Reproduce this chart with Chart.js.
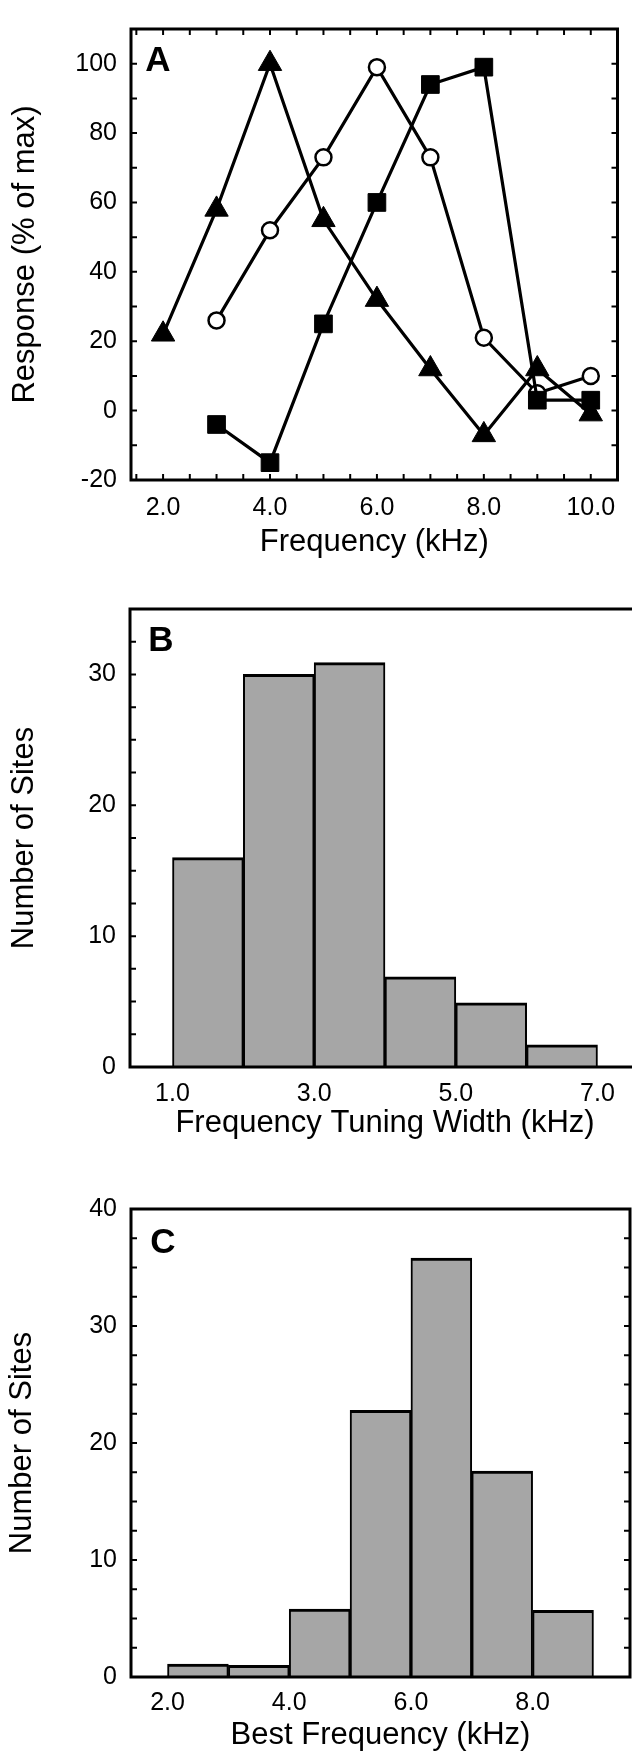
<!DOCTYPE html>
<html><head><meta charset="utf-8">
<script src="https://cdn.jsdelivr.net/npm/chart.js@4.4.1/dist/chart.umd.min.js"></script>
<style>
html,body{margin:0;padding:0;background:#fff;overflow:hidden;}
.p{position:absolute;left:0;}
</style></head><body>
<canvas id="cA" class="p" style="top:0" width="632" height="580"></canvas>
<canvas id="cB" class="p" style="top:580px" width="660" height="570"></canvas>
<canvas id="cC" class="p" style="top:1150px" width="632" height="604"></canvas>
<script>
// ---------- Panel A data ----------
const freqA = [2, 3, 4, 5, 6, 7, 8, 9, 10];
const triangleA = [22, 58, 100, 55, 32, 12, -7, 12, -1];          // x = 2..10
const freqA2 = [3, 4, 5, 6, 7, 8, 9, 10];
const circleA = [26, 52, 73, 99, 73, 21, 5, 10];                    // x = 3..10
const squareA = [-4, -15, 25, 60, 94, 99, 3, 3];                    // x = 3..10
const xTicksA = [2, 4, 6, 8, 10];
const yTicksA = [-20, 0, 20, 40, 60, 80, 100];

// ---------- Panel B data ----------
const binStartB = [1, 2, 3, 4, 5, 6];
const countsB = [16, 30, 30.9, 6.9, 4.9, 1.7];
const xTicksB = [1, 3, 5, 7];
const yTicksB = [0, 10, 20, 30];

// ---------- Panel C data ----------
const binStartC = [2, 3, 4, 5, 6, 7, 8];
const countsC = [1.1, 1.0, 5.8, 22.8, 35.8, 17.6, 5.7];
const xTicksC = [2, 4, 6, 8];
const yTicksC = [0, 10, 20, 30, 40];

const FONT = '"Liberation Sans", Arial, Helvetica, sans-serif';
Chart.defaults.color = '#000';
Chart.defaults.font.family = FONT;
const tickFont = {size: 25, family: FONT, lineHeight: 1.2};
const titleFont = {size: 31, family: FONT, lineHeight: 1.2};

function range(a, b, s) { const r = []; for (let v = a; v <= b + 1e-9; v += s) r.push(+v.toFixed(4)); return r; }

const frameTicks = {
  id: 'frameTicks',
  afterDatasetsDraw(chart, args, o) {
    const {ctx, chartArea: a, scales: {x, y}} = chart;
    ctx.save();
    ctx.strokeStyle = '#000';
    ctx.lineWidth = 2;
    const L = 6;
    ctx.beginPath();
    (o.left || []).forEach(v => { const p = y.getPixelForValue(v); ctx.moveTo(a.left, p); ctx.lineTo(a.left + L, p); });
    (o.right || []).forEach(v => { const p = y.getPixelForValue(v); ctx.moveTo(a.right, p); ctx.lineTo(a.right - L, p); });
    (o.bottom || []).forEach(v => { const p = x.getPixelForValue(v); ctx.moveTo(p, a.bottom); ctx.lineTo(p, a.bottom - L); });
    (o.top || []).forEach(v => { const p = x.getPixelForValue(v); ctx.moveTo(p, a.top); ctx.lineTo(p, a.top + L); });
    ctx.stroke();
    ctx.lineWidth = 3;
    ctx.strokeRect(a.left, a.top, a.right - a.left, a.bottom - a.top);
    ctx.fillStyle = '#000';
    ctx.font = 'bold 35px ' + FONT;
    ctx.textAlign = 'center';
    ctx.textBaseline = 'middle';
    ctx.fillText(o.letter, a.left + o.dx, a.top + o.dy);
    ctx.restore();
  }
};

function xScale(min, max, ticksArr, title, height, pad, titlePadBottom) {
  return {
    type: 'linear', min, max, offset: false,
    grid: {display: false, drawTicks: false, offset: false}, border: {display: false},
    afterBuildTicks: s => { s.ticks = ticksArr.map(v => ({value: v})); },
    ticks: {padding: pad, font: tickFont, color: '#000', autoSkip: false, maxRotation: 0,
            callback: v => Number(v).toFixed(1)},
    title: {display: true, text: title, font: titleFont, color: '#000', padding: {top: 0, bottom: titlePadBottom}},
    afterFit: s => { s.height = height; }
  };
}
function yScale(min, max, ticksArr, title, width, titlePadTop) {
  return {
    type: 'linear', min, max,
    grid: {display: false, drawTicks: false}, border: {display: false},
    afterBuildTicks: s => { s.ticks = ticksArr.map(v => ({value: v})); },
    ticks: {padding: 14, font: tickFont, color: '#000', callback: v => String(v)},
    title: {display: true, text: title, font: titleFont, color: '#000', padding: {top: titlePadTop, bottom: 0}},
    afterFit: s => { s.width = width; }
  };
}

// ---------- Panel A ----------
new Chart(document.getElementById('cA'), {
  type: 'line',
  data: {
    datasets: [
      {data: freqA.map((f, i) => ({x: f, y: triangleA[i]})), borderColor: '#000', borderWidth: 3.2,
       pointStyle: 'triangle', pointRadius: 13.5, pointBackgroundColor: '#000', pointBorderColor: '#000', pointBorderWidth: 1, tension: 0},
      {data: freqA2.map((f, i) => ({x: f, y: squareA[i]})), borderColor: '#000', borderWidth: 3.2,
       pointStyle: 'rect', pointRadius: 12.5, pointBackgroundColor: '#000', pointBorderColor: '#000', pointBorderWidth: 1, tension: 0},
      {data: freqA2.map((f, i) => ({x: f, y: circleA[i]})), borderColor: '#000', borderWidth: 3.2,
       pointStyle: 'circle', pointRadius: 8, pointBackgroundColor: '#fff', pointBorderColor: '#000', pointBorderWidth: 2.5, tension: 0}
    ]
  },
  options: {
    responsive: false, animation: false, devicePixelRatio: 1,
    layout: {padding: {left: 0, top: 11, right: 3, bottom: 0}},
    plugins: {legend: {display: false}, tooltip: {enabled: false},
      frameTicks: {letter: 'A', dx: 27, dy: 32,
        left: range(-10, 100, 10), right: range(-10, 100, 10),
        bottom: range(1.5, 10, 0.5), top: range(1.5, 10, 0.5)}},
    scales: {
      x: xScale(1.4, 10.5, xTicksA, 'Frequency (kHz)', 100, 13, 19),
      y: yScale(-20, 110, yTicksA, 'Response (% of max)', 131, 7)
    }
  },
  plugins: [frameTicks]
});

// ---------- Panel B ----------
new Chart(document.getElementById('cB'), {
  type: 'bar',
  data: {
    datasets: [{
      data: binStartB.map((s, i) => ({x: s + 0.5, y: countsB[i]})),
      backgroundColor: '#a6a6a6', borderColor: '#000',
      borderWidth: {top: 3, left: 2, right: 2, bottom: 0}, borderSkipped: 'start',
      barPercentage: 1, categoryPercentage: 1
    }]
  },
  options: {
    responsive: false, animation: false, devicePixelRatio: 1,
    layout: {padding: {left: 0, top: 20, right: 20, bottom: 0}},
    plugins: {legend: {display: false}, tooltip: {enabled: false},
      frameTicks: {letter: 'B', dx: 31, dy: 32, left: range(2.5, 32.5, 2.5)}},
    scales: {
      x: xScale(0.4, 7.6, xTicksB, 'Frequency Tuning Width (kHz)', 83, 12, 8),
      y: yScale(0, 35, yTicksB, 'Number of Sites', 130, 6)
    }
  },
  plugins: [frameTicks]
});

// ---------- Panel C ----------
new Chart(document.getElementById('cC'), {
  type: 'bar',
  data: {
    datasets: [{
      data: binStartC.map((s, i) => ({x: s + 0.5, y: countsC[i]})),
      backgroundColor: '#a6a6a6', borderColor: '#000',
      borderWidth: {top: 3, left: 2, right: 2, bottom: 0}, borderSkipped: 'start',
      barPercentage: 1, categoryPercentage: 1
    }]
  },
  options: {
    responsive: false, animation: false, devicePixelRatio: 1,
    layout: {padding: {left: 0, top: 59, right: 2, bottom: 0}},
    plugins: {legend: {display: false}, tooltip: {enabled: false},
      frameTicks: {letter: 'C', dx: 32, dy: 34, left: range(2.5, 37.5, 2.5), right: range(2.5, 37.5, 2.5)}},
    scales: {
      x: xScale(1.4, 9.6, xTicksC, 'Best Frequency (kHz)', 77, 11, 0),
      y: yScale(0, 40, yTicksC, 'Number of Sites', 131, 4)
    }
  },
  plugins: [frameTicks]
});
</script>
</body></html>
